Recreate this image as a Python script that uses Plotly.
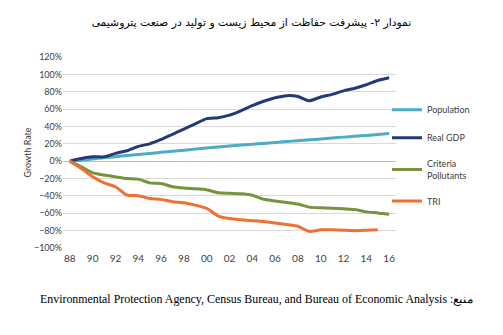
import plotly.graph_objects as go

years = list(range(1988, 2017))
tick_years = list(range(1988, 2017, 2))
tick_labels = ["88", "90", "92", "94", "96", "98", "00", "02", "04", "06", "08", "10", "12", "14", "16"]
y_ticks = [-100, -80, -60, -40, -20, 0, 20, 40, 60, 80, 100, 120]

population = [0, 1.3, 2.6, 4.0, 5.2, 6.5, 7.7, 8.9, 10.2, 11.4, 12.6, 13.9, 15.1, 16.3, 17.5,
              18.5, 19.5, 20.5, 21.6, 22.6, 23.6, 24.6, 25.6, 26.6, 27.7, 28.7, 29.7, 30.7, 31.8]
real_gdp = [0, 3, 5, 5, 9, 12, 17, 20, 25, 31, 37, 43, 49, 50, 53,
            58, 64, 69, 73, 75.5, 74.5, 69.5, 74, 77, 81, 84, 88, 93, 96]
criteria = [0, -6.5, -13.4, -16, -18, -20, -20.7, -25, -25.6, -29.5, -31, -31.8, -33, -36.4, -37,
            -37.5, -39.2, -43.9, -45.9, -47.5, -49.4, -52.9, -53.7, -54.1, -54.9, -55.7, -58.4, -59.6, -61.2]
tri_years = list(range(1988, 2016))
tri = [0, -8.4, -18, -25, -29.5, -39, -39.8, -42.9, -44, -46.7, -47.9, -50.6, -54.4, -63.2, -66,
       -67.5, -68.5, -69.5, -71.2, -73, -75, -81, -79, -79, -79.5, -80, -79.5, -79]

series = [
    ("Population", years, population, "#4bacc6"),
    ("Real GDP", years, real_gdp, "#233a7a"),
    ("Criteria<br>Pollutants", years, criteria, "#77933c"),
    ("TRI", tri_years, tri, "#ef7030"),
]

fig = go.Figure()
for i, (name, xs, ys, color) in enumerate(series):
    fig.add_trace(go.Scatter(
        x=xs, y=[v / 100 for v in ys], name=name, mode="lines",
        line=dict(color=color, width=3, shape="spline", smoothing=0.5),
        legendgroup=str(i),
    ))

fig.update_layout(
    width=503, height=335,
    margin=dict(l=63, r=107, t=57, b=87),
    paper_bgcolor="white", plot_bgcolor="white",
    font=dict(family="Lato", size=9, color="#404040"),
    title=dict(
        text="نمودار ۲- پیشرفت حفاظت از محیط زیست و تولید در صنعت پتروشیمی",
        x=0.5, xanchor="center", y=0.935, yanchor="middle",
        font=dict(family="DejaVu Sans", size=10.8, color="#000000"),
    ),
    xaxis=dict(
        range=[1987.4, 2016.6], tickvals=tick_years, ticktext=tick_labels,
        showgrid=False, zeroline=False, showline=False, ticks="",
        ticklabelstandoff=3,
        tickfont=dict(family="Lato", size=10, color="#404040"),
    ),
    yaxis=dict(
        range=[-1.0, 1.2], tickvals=[v / 100 for v in y_ticks], tickformat=".0%",
        showgrid=True, gridcolor="#d9d9d9", gridwidth=1,
        zeroline=True, zerolinecolor="#bfbfbf", zerolinewidth=1,
        showline=False, ticks="",
        tickfont=dict(family="Lato", size=9, color="#404040"),
        title=dict(text="Growth Rate", font=dict(family="Lato", size=9, color="#404040"), standoff=0),
    ),
    legend=dict(
        x=1.0 - 9 / 333, xanchor="left", y=0.8, yanchor="top",
        font=dict(family="Lato", size=9, color="#404040"),
        tracegroupgap=9, bgcolor="rgba(0,0,0,0)",
    ),
    annotations=[dict(
        text="Environmental Protection Agency, Census Bureau, and Bureau of Economic Analysis :منبع",
        xref="paper", yref="paper", x=0.5, y=-0.265, xanchor="center", yanchor="middle",
        showarrow=False, xshift=27,
        font=dict(family="Liberation Serif", size=11.9, color="#000000"),
    )],
)

fig.write_html("out.html")
